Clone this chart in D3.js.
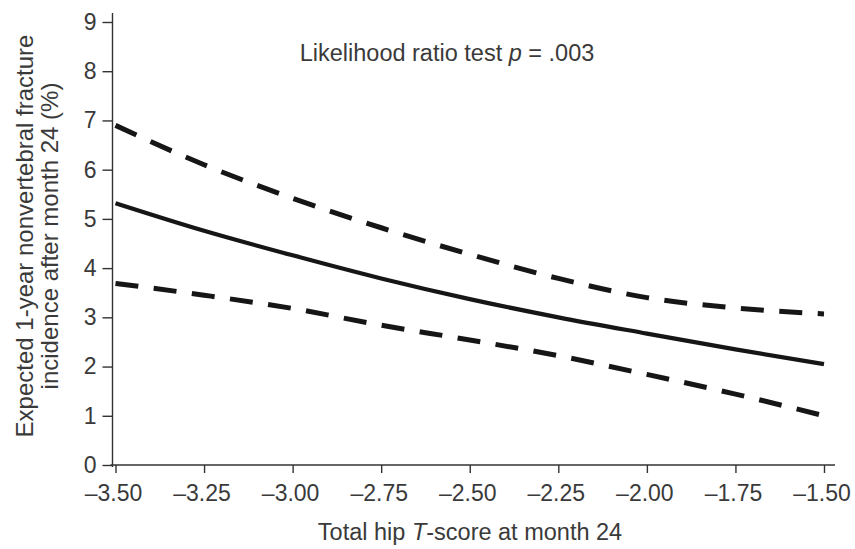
<!DOCTYPE html>
<html>
<head>
<meta charset="utf-8">
<script src="https://cdn.jsdelivr.net/npm/d3@7"></script>
<style>
  html, body { margin: 0; padding: 0; background: #fff; }
  svg { display: block; }
  text { font-family: "Liberation Sans", Arial, Helvetica, sans-serif; fill: #3a3a3a; }
</style>
</head>
<body>
<svg id="chart" width="855" height="549"></svg>
<script>
// Total hip T-score at month 24
const tScores = [-3.5, -3.25, -3.0, -2.75, -2.5, -2.25, -2.0, -1.75, -1.5];
// Expected 1-year nonvertebral fracture incidence (%)
const estimate = [5.32, 4.76, 4.26, 3.79, 3.37, 3.00, 2.67, 2.35, 2.05];
const upperCI  = [6.90, 6.10, 5.42, 4.82, 4.28, 3.79, 3.40, 3.19, 3.07];
const lowerCI  = [3.69, 3.45, 3.18, 2.84, 2.54, 2.22, 1.84, 1.44, 1.00];
const xTicks = [-3.5, -3.25, -3.0, -2.75, -2.5, -2.25, -2.0, -1.75, -1.5];
const yTicks = [0, 1, 2, 3, 4, 5, 6, 7, 8, 9];

const svg = d3.select("#chart");

const x = d3.scaleLinear().domain([-3.5, -1.5]).range([115.5, 824]);
const y = d3.scaleLinear().domain([0, 9]).range([465, 22]);
const axisX = 112.5; // vertical axis sits just left of the first x tick

const fmtX = d => d3.format(".2f")(d).replace("\u2212", "\u2013").replace("-", "\u2013");

// axes
const xAxis = svg.append("g")
  .attr("transform", `translate(0,${y(0)})`)
  .call(d3.axisBottom(x).tickValues(xTicks).tickFormat(fmtX).tickSize(8).tickPadding(11.5).tickSizeOuter(0));
const yAxis = svg.append("g")
  .attr("transform", `translate(${axisX},0)`)
  .call(d3.axisLeft(y).tickValues(yTicks).tickFormat(d3.format("d")).tickSize(10).tickPadding(6).tickSizeOuter(0));

[xAxis, yAxis].forEach(g => {
  g.select(".domain").remove();
  g.selectAll(".tick line").attr("stroke", "#333").attr("stroke-width", 1.4);
  g.selectAll(".tick text").attr("fill", "#3a3a3a").style("font-size", "23px")
    .style("font-family", "'Liberation Sans', Arial, sans-serif");
});
xAxis.selectAll(".tick text").attr("dx", -2.5);

// axis lines extend a little past the data range
svg.append("line")
  .attr("x1", axisX - 2).attr("x2", 835)
  .attr("y1", y(0)).attr("y2", y(0))
  .attr("stroke", "#333").attr("stroke-width", 1.4);
svg.append("line")
  .attr("x1", axisX).attr("x2", axisX)
  .attr("y1", y(0) + 2).attr("y2", 13)
  .attr("stroke", "#333").attr("stroke-width", 1.4);

// curves
const line = d3.line().x(d => x(d[0])).y(d => y(d[1])).curve(d3.curveMonotoneX);
const pts = arr => tScores.map((t, i) => [t, arr[i]]);

svg.append("path").datum(pts(upperCI)).attr("d", line)
  .attr("fill", "none").attr("stroke", "#161616").attr("stroke-width", 5)
  .attr("stroke-dasharray", "23 15.5");
svg.append("path").datum(pts(lowerCI)).attr("d", line)
  .attr("fill", "none").attr("stroke", "#161616").attr("stroke-width", 5)
  .attr("stroke-dasharray", "23 15.5");
svg.append("path").datum(pts(estimate)).attr("d", line)
  .attr("fill", "none").attr("stroke", "#161616").attr("stroke-width", 4.2);

// annotation
const note = svg.append("text").attr("x", 447).attr("y", 61)
  .attr("text-anchor", "middle").style("font-size", "23.5px");
note.append("tspan").text("Likelihood ratio test ");
note.append("tspan").style("font-style", "italic").text("p");
note.append("tspan").text(" = .003");

// x-axis title
const xt = svg.append("text").attr("x", 470).attr("y", 540)
  .attr("text-anchor", "middle").style("font-size", "23.5px");
xt.append("tspan").text("Total hip ");
xt.append("tspan").style("font-style", "italic").text("T");
xt.append("tspan").text("-score at month 24");

// y-axis title (two lines)
const yt = svg.append("text")
  .attr("transform", "translate(33,236) rotate(-90)")
  .attr("text-anchor", "middle").style("font-size", "24px");
yt.append("tspan").attr("x", 0).attr("dy", 0).text("Expected 1-year nonvertebral fracture");
yt.append("tspan").attr("x", 0).attr("dy", 25).text("incidence after month 24 (%)");
</script>
</body>
</html>
